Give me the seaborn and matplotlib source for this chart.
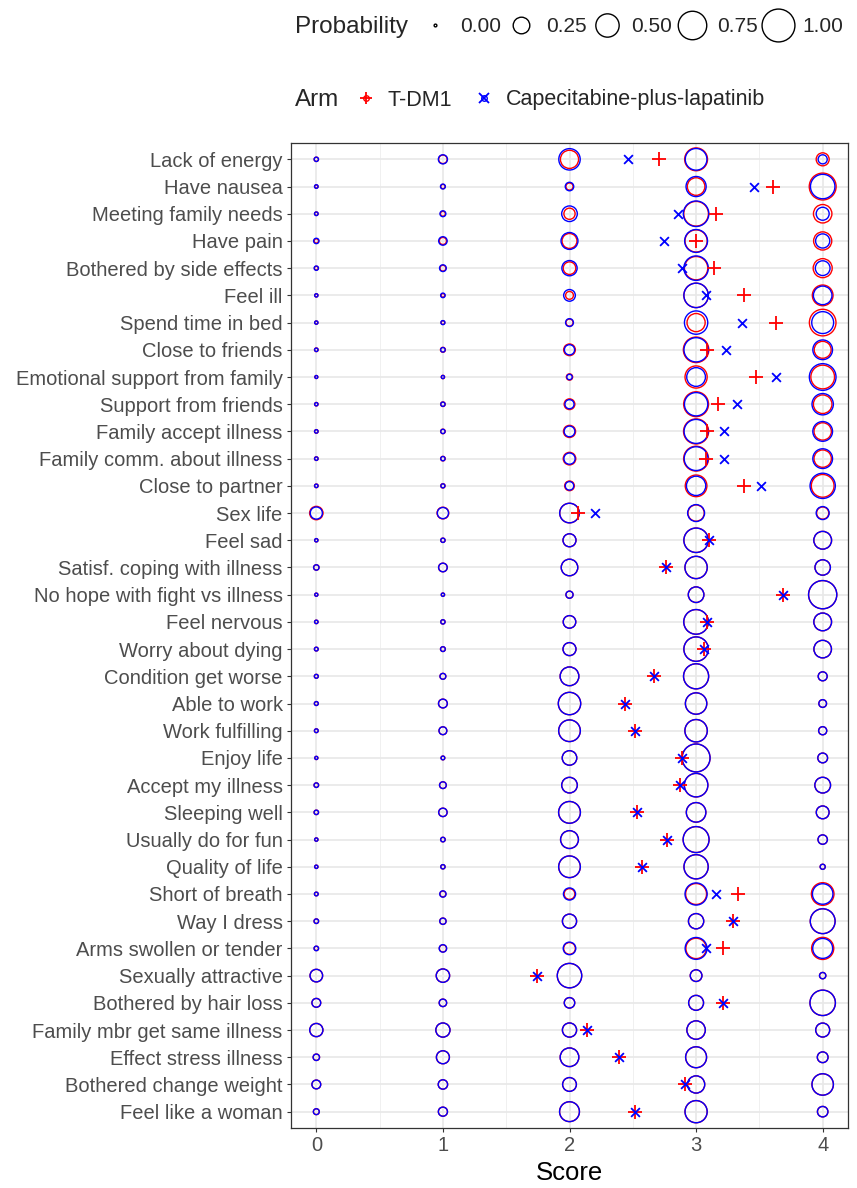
import numpy as np
import pandas as pd
import matplotlib
matplotlib.use("Agg")
import matplotlib.pyplot as plt
from matplotlib.lines import Line2D
from matplotlib.ticker import MultipleLocator
import seaborn as sns

# ---- data -------------------------------------------------------------
items = [
    "Lack of energy", "Have nausea", "Meeting family needs", "Have pain",
    "Bothered by side effects", "Feel ill", "Spend time in bed",
    "Close to friends", "Emotional support from family", "Support from friends",
    "Family accept illness", "Family comm. about illness", "Close to partner",
    "Sex life", "Feel sad", "Satisf. coping with illness",
    "No hope with fight vs illness", "Feel nervous", "Worry about dying",
    "Condition get worse", "Able to work", "Work fulfilling", "Enjoy life",
    "Accept my illness", "Sleeping well", "Usually do for fun",
    "Quality of life", "Short of breath", "Way I dress",
    "Arms swollen or tender", "Sexually attractive", "Bothered by hair loss",
    "Family mbr get same illness", "Effect stress illness",
    "Bothered change weight", "Feel like a woman",
]

scores = [0, 1, 2, 3, 4]
arms = ["T-DM1", "Capecitabine-plus-lapatinib"]

# probability of each score (0..4) per item, T-DM1 arm
prob_tdm1 = [
    [.010, .060, .300, .480, .150],
    [.003, .010, .040, .280, .667],
    [.004, .015, .110, .560, .310],
    [.010, .040, .200, .450, .300],
    [.006, .025, .140, .500, .330],
    [.002, .005, .050, .550, .393],
    [.002, .005, .040, .300, .653],
    [.005, .015, .120, .600, .260],
    [.001, .003, .030, .450, .516],
    [.004, .012, .100, .570, .314],
    [.005, .012, .130, .580, .273],
    [.005, .012, .140, .570, .273],
    [.005, .010, .080, .430, .475],
    [.160, .120, .350, .240, .130],
    [.003, .010, .150, .550, .287],
    [.020, .062, .248, .456, .214],
    [.002, .003, .040, .220, .735],
    [.004, .010, .140, .560, .286],
    [.006, .014, .150, .550, .280],
    [.007, .025, .320, .580, .068],
    [.007, .065, .460, .420, .048],
    [.006, .050, .430, .460, .054],
    [.002, .006, .190, .720, .082],
    [.012, .035, .220, .510, .223],
    [.011, .059, .435, .349, .146],
    [.003, .012, .290, .620, .075],
    [.003, .010, .430, .540, .017],
    [.005, .025, .100, .400, .470],
    [.012, .030, .180, .210, .568],
    [.010, .040, .120, .380, .450],
    [.140, .160, .550, .120, .030],
    [.065, .045, .095, .200, .595],
    [.155, .180, .180, .310, .175],
    [.031, .150, .317, .401, .100],
    [.065, .075, .170, .270, .420],
    [.025, .070, .360, .450, .095],
]

# probability of each score (0..4) per item, capecitabine-plus-lapatinib arm
prob_cap = [
    [.010, .070, .420, .430, .070],
    [.005, .015, .060, .370, .550],
    [.005, .025, .220, .600, .150],
    [.020, .060, .260, .480, .180],
    [.010, .035, .210, .550, .195],
    [.003, .012, .120, .550, .315],
    [.003, .008, .050, .500, .440],
    [.004, .012, .090, .540, .354],
    [.001, .002, .020, .320, .657],
    [.003, .010, .070, .500, .417],
    [.004, .010, .100, .530, .356],
    [.004, .010, .110, .520, .356],
    [.004, .008, .060, .340, .588],
    [.130, .110, .350, .260, .150],
    [.003, .010, .150, .550, .287],
    [.020, .062, .248, .456, .214],
    [.002, .003, .040, .220, .735],
    [.004, .010, .140, .560, .286],
    [.006, .014, .150, .550, .280],
    [.007, .025, .320, .580, .068],
    [.007, .065, .460, .420, .048],
    [.006, .050, .430, .460, .054],
    [.002, .006, .190, .720, .082],
    [.012, .035, .220, .510, .223],
    [.011, .059, .435, .349, .146],
    [.003, .012, .290, .620, .075],
    [.003, .010, .430, .540, .017],
    [.006, .030, .130, .450, .384],
    [.012, .030, .180, .210, .568],
    [.012, .045, .140, .440, .363],
    [.140, .160, .550, .120, .030],
    [.065, .045, .095, .200, .595],
    [.155, .180, .180, .310, .175],
    [.031, .150, .317, .401, .100],
    [.065, .075, .170, .270, .420],
    [.025, .070, .360, .450, .095],
]

# mean score per item and arm
mean_tdm1 = [2.71, 3.61, 3.16, 3.00, 3.14, 3.38, 3.63, 3.09, 3.47, 3.17, 3.09,
             3.08, 3.38, 2.07, 3.10, 2.76, 3.69, 3.09, 3.06, 2.67, 2.44, 2.52,
             2.89, 2.87, 2.53, 2.77, 2.57, 3.33, 3.29, 3.21, 1.74, 3.21, 2.14,
             2.39, 2.91, 2.52]
mean_cap = [2.46, 3.46, 2.86, 2.75, 2.89, 3.08, 3.36, 3.24, 3.63, 3.32, 3.22,
            3.22, 3.51, 2.20, 3.10, 2.76, 3.69, 3.09, 3.06, 2.67, 2.44, 2.52,
            2.89, 2.87, 2.53, 2.77, 2.57, 3.16, 3.29, 3.08, 1.74, 3.21, 2.14,
            2.39, 2.91, 2.52]

legend_probs = [0.0, 0.25, 0.5, 0.75, 1.0]

# ---- long table for the probability circles ---------------------------
rows = []
for arm, table in zip(arms, [prob_tdm1, prob_cap]):
    for item, probs in zip(items, table):
        for sc, p in zip(scores, probs):
            rows.append({"Arm": arm, "Item": item, "Score": sc, "Probability": p})
circles = pd.DataFrame(rows)

RED = "#FF0000"
BLUE = "#0000FF"
palette = {arms[0]: RED, arms[1]: BLUE}
SIZES = (4, 560)          # marker area (pt^2) for probability 0 and 1

# ---- figure -------------------------------------------------------------
sns.set_style("ticks")
plt.rcParams["font.family"] = ["Liberation Sans", "DejaVu Sans"]

fig = plt.figure(figsize=(8.57, 11.88), dpi=100)
ax = fig.add_axes([291 / 857, 1 - 1128 / 1188, (848 - 291) / 857, (1128 - 143) / 1188])

sns.scatterplot(data=circles, x="Score", y="Item", hue="Arm", hue_order=arms,
                palette=palette, size="Probability", sizes=SIZES,
                size_norm=(0, 1), marker="o", legend=False, ax=ax, zorder=3)
coll = ax.collections[-1]
fc = coll.get_facecolors()
coll.set_edgecolors(fc)
coll.set_facecolors("none")
coll.set_linewidths(1.0)

sns.scatterplot(x=mean_tdm1, y=items, marker="+", color=RED, s=88,
                linewidth=1.3, legend=False, ax=ax, zorder=4)
sns.scatterplot(x=mean_cap, y=items, marker="x", color=BLUE, s=40,
                linewidth=1.3, legend=False, ax=ax, zorder=5)

# ---- axes styling -----------------------------------------------------
ax.set_xlim(-0.2, 4.2)
ax.set_ylim(len(items) - 0.4, -0.6)
ax.set_xticks(scores)
ax.xaxis.set_minor_locator(MultipleLocator(0.5))
ax.set_axisbelow(True)
ax.grid(which="major", axis="both", color="#E8E8E8", linewidth=1.2, zorder=0)
ax.grid(which="minor", axis="x", color="#F0F0F0", linewidth=0.7, zorder=0)
ax.tick_params(axis="both", which="major", length=3, width=0.8,
               color="#333333", labelcolor="#4D4D4D", labelsize=14.5, pad=3)
ax.tick_params(axis="x", which="minor", length=0)
for sp in ax.spines.values():
    sp.set_color("#333333")
    sp.set_linewidth(0.9)
ax.set_ylabel("")
ax.set_xlabel("Score", fontsize=18.5, color="black", labelpad=4)

# ---- legends ------------------------------------------------------------
size_handles = [
    Line2D([], [], linestyle="", marker="o", markerfacecolor="none",
           markeredgecolor="black", markeredgewidth=1.0,
           markersize=np.sqrt(SIZES[0] + (SIZES[1] - SIZES[0]) * p))
    for p in legend_probs
]
leg1 = fig.legend(size_handles, [f"{p:.2f}" for p in legend_probs],
                  loc="center left", bbox_to_anchor=(425 / 857, 1 - 27 / 1188),
                  ncols=5, frameon=False, fontsize=15, handlelength=1.0,
                  handletextpad=0.7, columnspacing=0.45, borderpad=0,
                  borderaxespad=0)
fig.text(295 / 857, 1 - 27 / 1188, "Probability", fontsize=17.5,
         va="center", ha="left")

arm_handles = [
    (Line2D([], [], linestyle="", marker="o", markerfacecolor="none",
            markeredgecolor=RED, markersize=4, markeredgewidth=1.0),
     Line2D([], [], linestyle="", marker="+", color=RED, markersize=9,
            markeredgewidth=1.3)),
    (Line2D([], [], linestyle="", marker="o", markerfacecolor="none",
            markeredgecolor=BLUE, markersize=4, markeredgewidth=1.0),
     Line2D([], [], linestyle="", marker="x", color=BLUE, markersize=6.5,
            markeredgewidth=1.3)),
]
leg2 = fig.legend(arm_handles, arms, loc="center left",
                  bbox_to_anchor=(355 / 857, 1 - 100 / 1188), ncols=2,
                  frameon=False, fontsize=15.5, handlelength=1.0,
                  handletextpad=0.5, columnspacing=1.0, borderpad=0,
                  borderaxespad=0)
fig.text(295 / 857, 1 - 100 / 1188, "Arm", fontsize=17.5,
         va="center", ha="left")

fig.savefig("out.png", dpi=100)
